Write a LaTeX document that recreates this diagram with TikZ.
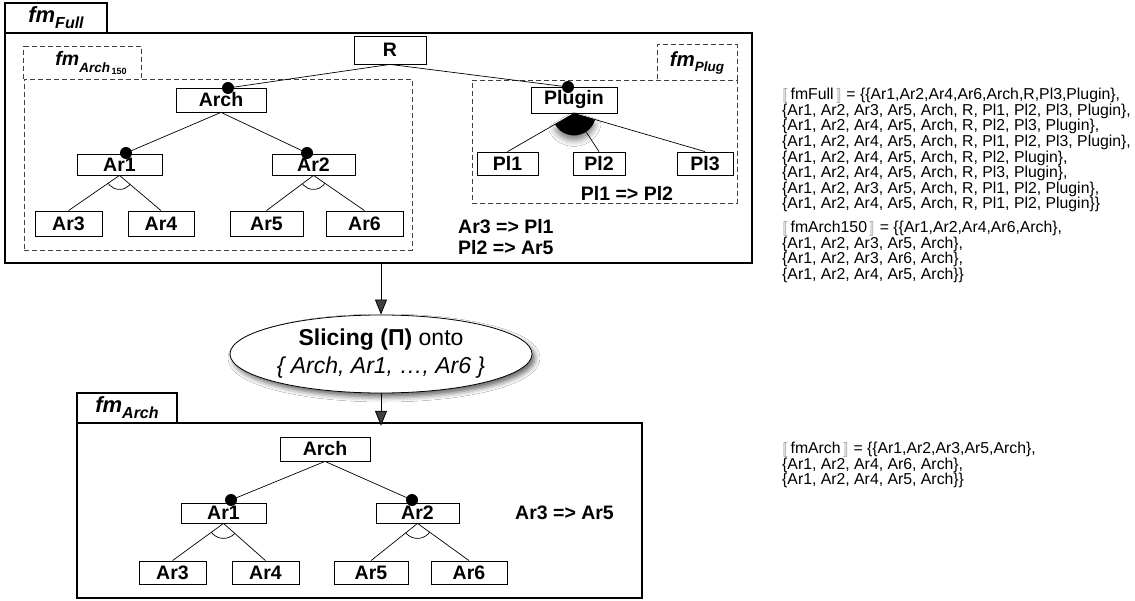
\documentclass[tikz,border=0pt]{standalone}
\usepackage{fontspec}
\setmainfont{Liberation Sans}
\usepackage{stmaryrd}
\usetikzlibrary{arrows.meta,shapes.geometric,shadows.blur}
\newcommand{\fmtab}[4]{\fontsize{#1}{#1}\selectfont\bfseries\itshape fm\raisebox{-#3}{\fontsize{#2}{#2}\selectfont #4}}
\newcommand{\semb}[1]{\textcolor{gray}{$\llbracket$}\,#1\,\textcolor{gray}{$\rrbracket$}}
\tikzset{
 feat/.style={draw, line width=0.8pt, inner sep=0pt, font=\fontsize{19.5}{20}\selectfont\bfseries},
 frame/.style={draw, line width=2.4pt, inner sep=0pt},
 dbox/.style={draw=black!75, line width=0.9pt, dash pattern=on 5pt off 3pt, inner sep=0pt},
 conn/.style={line width=0.7pt},
 mand/.style={circle, fill=black, inner sep=0pt, minimum size=12pt},
 lbl/.style={font=\fontsize{19.5}{20}\selectfont\bfseries, inner sep=0pt},
 sem/.style={font=\fontsize{15.8}{15.6}\selectfont, align=left, anchor=north west, inner sep=0pt},
 arr/.style={line width=0.8pt, -{Triangle[length=15pt,width=12pt]}},
}
\begin{document}
\begin{tikzpicture}[x=1pt,y=-1pt]
\useasboundingbox[fill=white] (0,0) rectangle (1135,601);

% ---------- top frame ----------
\node[frame, minimum width=747pt, minimum height=230pt] (full) at (378.5,148) {};
\node[frame, minimum width=102pt, minimum height=30pt] (fulltab) at (56,18) {\fmtab{22}{16}{6pt}{Full}};

% dashed sub-model boxes
\node[dbox, minimum width=388pt, minimum height=171pt] (a150) at (218,164.5) {};
\draw[dbox] (a150.north west) -- ++(0,-32) -- ++(118,0) -- ++(0,32);
\node[inner sep=0pt] (a150lbl) at (91,63) {\fontsize{19.5}{19.5}\selectfont\bfseries\itshape fm\raisebox{-7pt}{\fontsize{13.5}{13.5}\selectfont Arch\raisebox{-2pt}{\fontsize{9}{9}\selectfont\upshape\,150}}};

\node[dbox, minimum width=265pt, minimum height=123pt] (plug) at (604.5,141.5) {};
\draw[dbox] (plug.north east) -- ++(0,-35) -- ++(-80,0) -- ++(0,35);
\node[inner sep=0pt] (pluglbl) at (697,63) {\fmtab{20.5}{13.5}{5pt}{Plug}};

% features
\node[feat, minimum width=72pt, minimum height=28pt] (R) at (390,50) {R};
\node[feat, minimum width=90pt, minimum height=24pt] (Arch) at (221,100) {Arch};
\node[feat, minimum width=85pt, minimum height=21pt] (Ar1) at (119.5,164.5) {Ar1};
\node[feat, minimum width=83pt, minimum height=21pt] (Ar2) at (313.5,164.5) {Ar2};
\node[feat, minimum width=67pt, minimum height=25pt] (Ar3) at (68.5,223.5) {Ar3};
\node[feat, minimum width=66pt, minimum height=25pt] (Ar4) at (161,223.5) {Ar4};
\node[feat, minimum width=73pt, minimum height=25pt] (Ar5) at (266.5,223.5) {Ar5};
\node[feat, minimum width=77pt, minimum height=25pt] (Ar6) at (364.5,223.5) {Ar6};
\node[feat, minimum width=86pt, minimum height=26pt] (Plugin) at (574,100) {Plugin};
\node[feat, minimum width=61pt, minimum height=23pt] (Pl1) at (507.5,163.5) {Pl1};
\node[feat, minimum width=52pt, minimum height=23pt] (Pl2) at (599,163.5) {Pl2};
\node[feat, minimum width=56pt, minimum height=23pt] (Pl3) at (705,163.5) {Pl3};

\coordinate (dArch) at (228,88);
\coordinate (dAr1) at (126,153);
\coordinate (dAr2) at (307,153);
\coordinate (dPlug) at (568,87);

% connectors
\draw[conn] (R.south) -- (dArch);
\draw[conn] (R.south) -- (dPlug);
\draw[conn] (Arch.south) -- (dAr1);
\draw[conn] (Arch.south) -- (dAr2);
\draw[conn] (Ar1.south) -- (Ar3.north);
\draw[conn] (Ar1.south) -- (Ar4.north);
\draw[conn] (Ar2.south) -- (Ar5.north);
\draw[conn] (Ar2.south) -- (Ar6.north);
\draw[conn] (Plugin.south) -- (Pl1.north);
\draw[conn] (Plugin.south) -- (Pl2.north);
\draw[conn] (Plugin.south) -- (Pl3.north);

% alternative arcs
\begin{scope}
\clip (Ar1.south) -- (Ar3.north) -- (Ar4.north) -- cycle;
\draw[conn] (Ar1.south) circle[radius=14];
\end{scope}
\begin{scope}
\clip (Ar2.south) -- (Ar5.north) -- (Ar6.north) -- cycle;
\draw[conn] (Ar2.south) circle[radius=14];
\end{scope}
% or-group sector
\fill[blur shadow={shadow xshift=0pt, shadow yshift=-5pt, shadow blur radius=6pt, shadow opacity=50}]
  (Plugin.south) -- ++(16.6:22) arc[start angle=16.6, end angle=149.6, radius=22] -- cycle;

% mandatory dots
\node[mand] (mArch) at (dArch) {};
\node[mand] (mAr1) at (dAr1) {};
\node[mand] (mAr2) at (dAr2) {};
\node[mand] (mPlug) at (dPlug) {};

% constraints
\node[lbl] (c1) at (627,193) {Pl1 => Pl2};
\node[lbl, anchor=west] (c2) at (458,227) {Ar3 => Pl1};
\node[lbl, anchor=west] (c3) at (458,248) {Pl2 => Ar5};

% ---------- slicing ----------
\node[ellipse, draw, fill=white, line width=0.8pt, inner sep=0pt, minimum width=302pt, minimum height=78pt,
      align=center, font=\fontsize{23}{28}\selectfont,
      blur shadow={shadow xshift=3pt, shadow yshift=-4pt, shadow blur radius=5pt, shadow opacity=60}]
  (slice) at (381,354) {\textbf{Slicing (Π)} onto\\\textit{\{ Arch, Ar1, …, Ar6 \}}};

% ---------- bottom frame ----------
\node[frame, minimum width=565pt, minimum height=175pt] (archf) at (359.5,510.5) {};
\node[frame, minimum width=100pt, minimum height=30pt] (archtab) at (127,408) {\fmtab{22}{16}{6pt}{Arch}};

\draw[arr] (slice.north |- full.south) -- (slice.north);
\draw[arr] (slice.south) -- ([yshift=-4pt]slice.south |- archf.north);

\node[feat, minimum width=90pt, minimum height=24pt] (bArch) at (325,449) {Arch};
\node[feat, minimum width=85pt, minimum height=20pt] (bAr1) at (223.5,513) {Ar1};
\node[feat, minimum width=83pt, minimum height=20pt] (bAr2) at (417.5,513) {Ar2};
\node[feat, minimum width=67pt, minimum height=23pt] (bAr3) at (172.5,572.5) {Ar3};
\node[feat, minimum width=67pt, minimum height=23pt] (bAr4) at (265.5,572.5) {Ar4};
\node[feat, minimum width=74pt, minimum height=23pt] (bAr5) at (371,572.5) {Ar5};
\node[feat, minimum width=76pt, minimum height=23pt] (bAr6) at (469,572.5) {Ar6};

\coordinate (dbAr1) at (231,500);
\coordinate (dbAr2) at (412,500);
\draw[conn] (bArch.south) -- (dbAr1);
\draw[conn] (bArch.south) -- (dbAr2);
\draw[conn] (bAr1.south) -- (bAr3.north);
\draw[conn] (bAr1.south) -- (bAr4.north);
\draw[conn] (bAr2.south) -- (bAr5.north);
\draw[conn] (bAr2.south) -- (bAr6.north);
\begin{scope}
\clip (bAr1.south) -- (bAr3.north) -- (bAr4.north) -- cycle;
\draw[conn] (bAr1.south) circle[radius=15];
\end{scope}
\begin{scope}
\clip (bAr2.south) -- (bAr5.north) -- (bAr6.north) -- cycle;
\draw[conn] (bAr2.south) circle[radius=15];
\end{scope}
\node[mand] (mbAr1) at (dbAr1) {};
\node[mand] (mbAr2) at (dbAr2) {};

\node[lbl, anchor=west] (c4) at (515,513) {Ar3 => Ar5};

% ---------- semantics ----------
\node[sem] (semFull) at (782,88) {%
\semb{fmFull} = \{\{Ar1,Ar2,Ar4,Ar6,Arch,R,Pl3,Plugin\},\\
\{Ar1, Ar2, Ar3, Ar5, Arch, R, Pl1, Pl2, Pl3, Plugin\},\\
\{Ar1, Ar2, Ar4, Ar5, Arch, R, Pl2, Pl3, Plugin\},\\
\{Ar1, Ar2, Ar4, Ar5, Arch, R, Pl1, Pl2, Pl3, Plugin\},\\
\{Ar1, Ar2, Ar4, Ar5, Arch, R, Pl2, Plugin\},\\
\{Ar1, Ar2, Ar4, Ar5, Arch, R, Pl3, Plugin\},\\
\{Ar1, Ar2, Ar3, Ar5, Arch, R, Pl1, Pl2, Plugin\},\\
\{Ar1, Ar2, Ar4, Ar5, Arch, R, Pl1, Pl2, Plugin\}\}};
\node[sem] (sem150) at (782,221) {%
\semb{fmArch150} = \{\{Ar1,Ar2,Ar4,Ar6,Arch\},\\
\{Ar1, Ar2, Ar3, Ar5, Arch\},\\
\{Ar1, Ar2, Ar3, Ar6, Arch\},\\
\{Ar1, Ar2, Ar4, Ar5, Arch\}\}};
\node[sem] (semArch) at (782,442) {%
\semb{fmArch} = \{\{Ar1,Ar2,Ar3,Ar5,Arch\},\\
\{Ar1, Ar2, Ar4, Ar6, Arch\},\\
\{Ar1, Ar2, Ar4, Ar5, Arch\}\}};
\end{tikzpicture}
\end{document}
